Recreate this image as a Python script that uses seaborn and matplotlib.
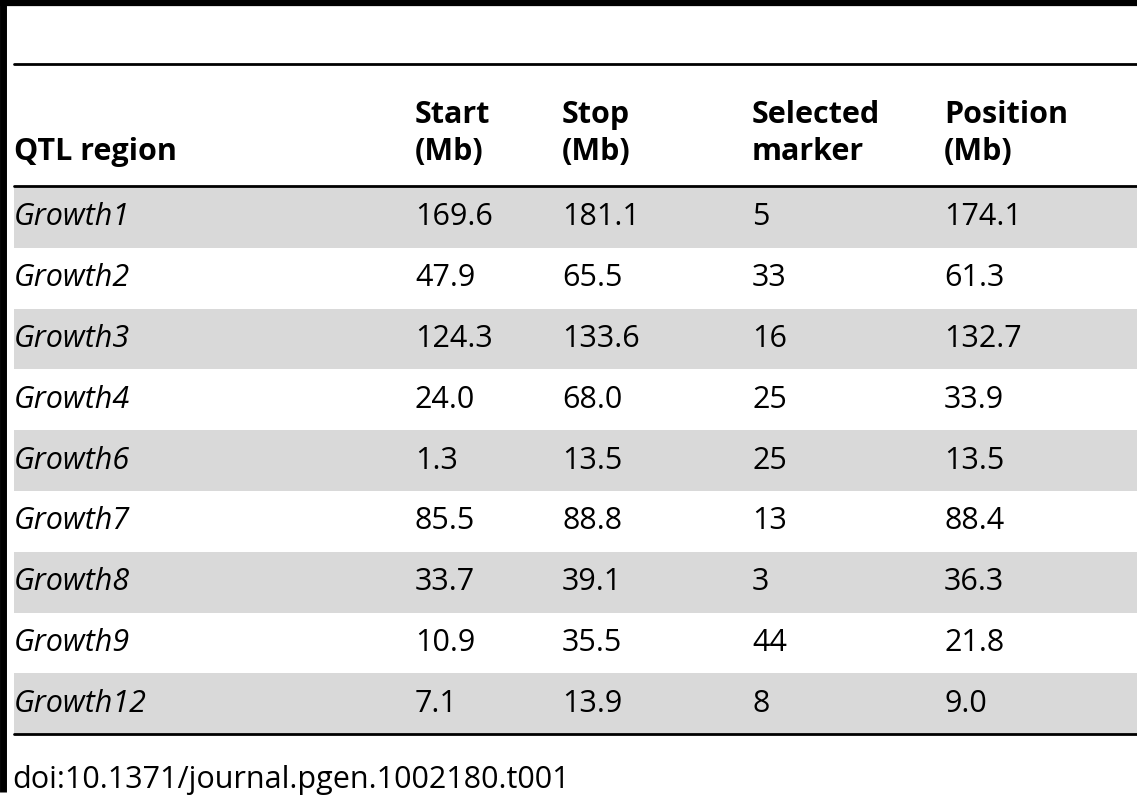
import matplotlib
matplotlib.use("Agg")
import matplotlib.pyplot as plt
import seaborn as sns

sns.set_theme(style="white")
plt.rcParams['font.family'] = ['Open Sans', 'DejaVu Sans']

headers = ["QTL region", "Start\n(Mb)", "Stop\n(Mb)", "Selected\nmarker", "Position\n(Mb)"]
regions = ["Growth1", "Growth2", "Growth3", "Growth4", "Growth6", "Growth7", "Growth8", "Growth9", "Growth12"]
start = ["169.6", "47.9", "124.3", "24.0", "1.3", "85.5", "33.7", "10.9", "7.1"]
stop = ["181.1", "65.5", "133.6", "68.0", "13.5", "88.8", "39.1", "35.5", "13.9"]
marker = ["5", "33", "16", "25", "25", "13", "3", "44", "8"]
position = ["174.1", "61.3", "132.7", "33.9", "13.5", "88.4", "36.3", "21.8", "9.0"]
footer = "doi:10.1371/journal.pgen.1002180.t001"

fig = plt.figure(figsize=(11.37, 8.0), dpi=100)
ax = fig.add_axes([0, 0, 1, 1])
ax.set_xlim(0, 1137)
ax.set_ylim(800, 0)
ax.axis("off")

colx = [14, 415, 562, 752, 944]
fs = 22
row_top = 187
rh = 60.8

ax.plot([0, 1137], [2.5, 2.5], color="black", lw=4.5, solid_capstyle="butt")
ax.plot([2.5, 2.5], [0, 792], color="black", lw=5, solid_capstyle="butt")
ax.plot([14, 1137], [64, 64], color="black", lw=2)
ax.plot([14, 1137], [186, 186], color="black", lw=2)

for i, h in enumerate(headers):
    ax.text(colx[i], 160, h, fontsize=fs, fontweight="bold", ha="left", va="baseline",
            linespacing=1.3, color="black")

cols = [regions, start, stop, marker, position]
for r in range(len(regions)):
    y0 = row_top + r * rh
    if r % 2 == 0:
        ax.fill_between([14, 1137], y0, y0 + rh, color="#d9d9d9", lw=0)
    for c, col in enumerate(cols):
        ax.text(colx[c], y0 + rh / 2, col[r], fontsize=fs, ha="left", va="center",
                style="italic" if c == 0 else "normal", color="black")

ax.plot([14, 1137], [row_top + 9 * rh, row_top + 9 * rh], color="black", lw=2)
ax.text(12, 780, footer, fontsize=fs, ha="left", va="center", color="black")

fig.savefig("out.png", dpi=100)
